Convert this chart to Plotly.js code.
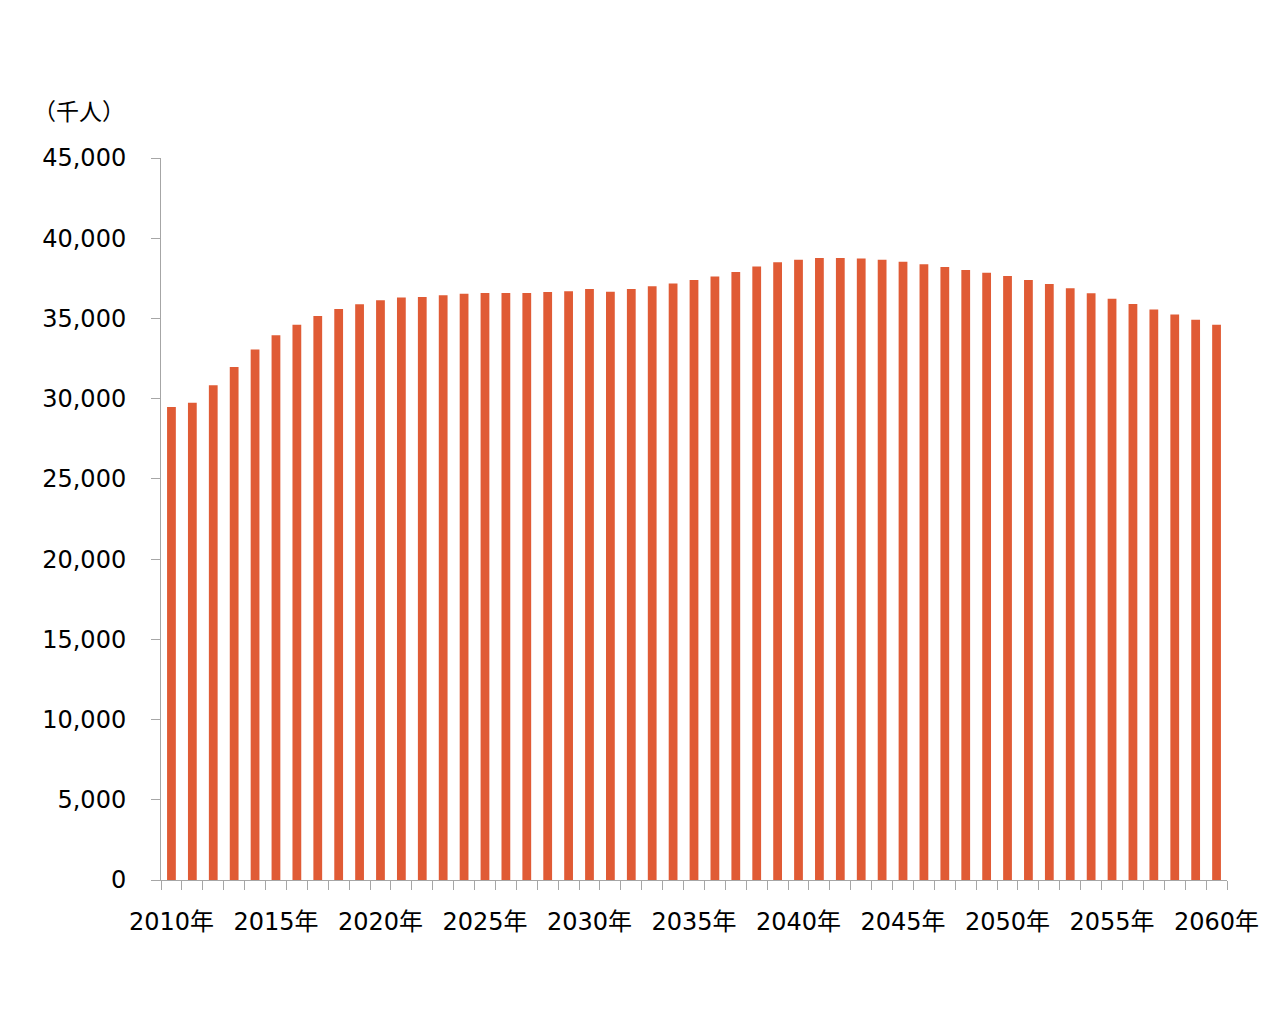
<!DOCTYPE html>
<html>
<head>
<meta charset="utf-8">
<script src="https://cdn.plot.ly/plotly-3.0.1.min.js"></script>
<style>html,body{margin:0;padding:0;background:#fff;}#chart{width:1280px;height:1024px;}</style>
</head>
<body>
<div id="chart"></div>
<script>
const years = [];
for (let y = 2010; y <= 2060; y++) years.push(String(y));
const population = [
  29480, 29750, 30830, 31970, 33070, 33950, 34610, 35150, 35590, 35880,
  36130, 36300, 36340, 36440, 36540, 36590, 36590, 36590, 36650, 36690,
  36840, 36670, 36840, 37000, 37180, 37400, 37620, 37890, 38230, 38500,
  38660, 38760, 38760, 38740, 38660, 38540, 38370, 38200, 38020, 37850,
  37650, 37400, 37150, 36880, 36570, 36230, 35900, 35550, 35240, 34920,
  34610
];
const tickLabels = years.map((y, i) => (i % 5 === 0 ? y + '年' : ''));
const unitLabel = '（千人）';

const fontFam = 'Verdana, "DejaVu Sans", "Noto Sans CJK JP", sans-serif';
const cjkFam = '"Noto Sans CJK JP", "DejaVu Sans", sans-serif';

Plotly.newPlot('chart', [{
  type: 'bar',
  x: years,
  y: population,
  marker: {color: '#E05B35', line: {width: 0}},
  hoverinfo: 'x+y'
}], {
  width: 1280, height: 1024,
  margin: {l: 161, r: 53, t: 158, b: 144},
  paper_bgcolor: '#fff', plot_bgcolor: '#fff',
  bargap: 0.58,
  showlegend: false,
  font: {family: fontFam, size: 24, color: '#000'},
  xaxis: {
    type: 'category',
    tickmode: 'array',
    tickvals: years,
    ticktext: tickLabels,
    tickson: 'boundaries',
    ticks: 'outside', ticklen: 9, tickcolor: '#a6a6a6', tickwidth: 1,
    showline: true, linecolor: '#a6a6a6', linewidth: 1,
    showgrid: false, zeroline: false,
    tickangle: 0,
    ticklabelstandoff: 20,
    tickfont: {family: fontFam, size: 24, color: '#000'}
  },
  yaxis: {
    range: [0, 45000],
    tickmode: 'linear', tick0: 0, dtick: 5000,
    tickformat: ',d',
    ticks: 'outside', ticklen: 9, tickcolor: '#a6a6a6', tickwidth: 1,
    showline: true, linecolor: '#a6a6a6', linewidth: 1,
    showgrid: false, zeroline: false,
    ticklabelstandoff: 20,
    tickfont: {family: fontFam, size: 24, color: '#000'}
  },
  annotations: [{
    text: unitLabel,
    xref: 'paper', yref: 'paper',
    x: -0.077, y: 1.066, xanchor: 'center', yanchor: 'middle',
    showarrow: false,
    font: {family: cjkFam, size: 23, color: '#000'}
  }]
}, {displayModeBar: false, staticPlot: true});
</script>
</body>
</html>
